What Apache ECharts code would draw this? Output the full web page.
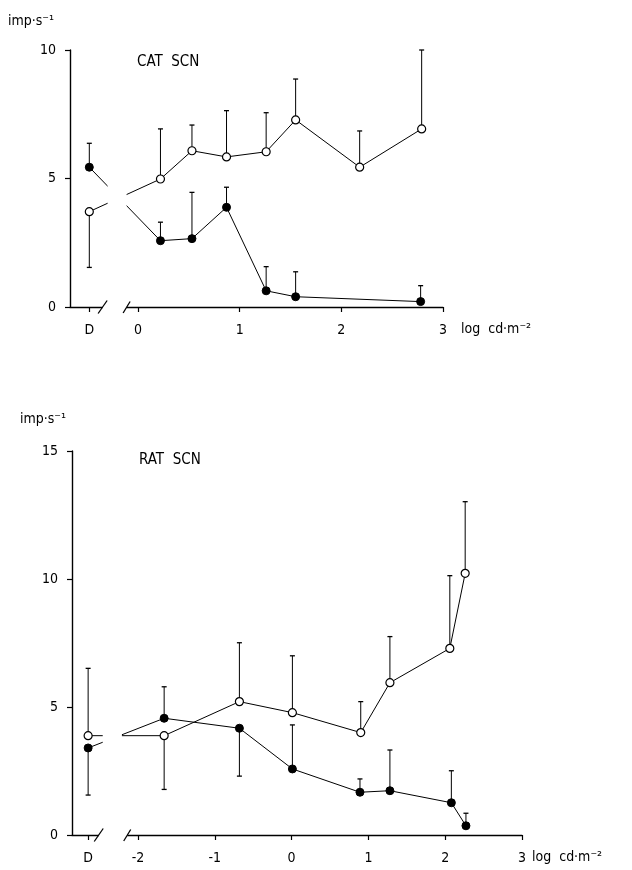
<!DOCTYPE html>
<html>
<head>
<meta charset="utf-8">
<script src="https://cdn.jsdelivr.net/npm/echarts@6/dist/echarts.min.js"></script>
<style>html,body{margin:0;padding:0;background:#fff;}#c{width:632px;height:870px;}</style>
</head>
<body>
<div id="c"></div>
<script>
// ---- data ----
const catD = -0.48;               // position of the "D" (dark) point on the top axis
const ratD = -2.65;               // position of the "D" point on the bottom axis
const catTicks = [0, 1, 2, 3];
const ratTicks = [-2, -1, 0, 1, 2, 3];
const catYTicks = [0, 5, 10];
const ratYTicks = [0, 5, 10, 15];

const catOpenX   = [catD, 0.22, 0.53, 0.87, 1.26, 1.55, 2.18, 2.79];
const catOpenY   = [3.71, 4.98, 6.08, 5.84, 6.04, 7.28, 5.44, 6.93];
const catOpenErr = [1.54, 6.93, 7.08, 7.64, 7.56, 8.87, 6.85, 10.0];

const catFillX   = [catD, 0.22, 0.53, 0.87, 1.26, 1.55, 2.78];
const catFillY   = [5.44, 2.58, 2.66, 3.88, 0.63, 0.40, 0.21];
const catFillErr = [6.37, 3.30, 4.46, 4.66, 1.57, 1.37, 0.83];

const ratOpenX   = [ratD, -1.66, -0.68, 0.01, 0.90, 1.28, 2.06, 2.26];
const ratOpenY   = [3.88, 3.88, 5.21, 4.78, 4.00, 5.95, 7.29, 10.22];
const ratOpenErr = [6.51, 1.78, 7.51, 7.00, 5.21, 7.75, 10.13, 13.02];

const ratFillX   = [ratD, -1.66, -0.68, 0.01, 0.89, 1.28, 2.08, 2.27];
const ratFillY   = [3.40, 4.56, 4.17, 2.58, 1.67, 1.73, 1.26, 0.36];
const ratFillErr = [1.56, 5.79, 2.30, 4.30, 2.19, 3.32, 2.51, 0.85];

// ---- layout / style config ----
const FONT = '"Liberation Sans Narrow", "DejaVu Sans Condensed", "Liberation Sans", sans-serif';
const catBreak = { lines: [-0.30, -0.113], axis: [-0.349, -0.113], yMax: 10 };
const ratBreak = { lines: [-2.46, -2.21], axis: [-2.512, -2.141], yMax: 15 };

const pairs = (xs, ys) => xs.map((x, i) => [x, ys[i]]);
const triples = (xs, ys, es) => xs.map((x, i) => [x, ys[i], es[i]]);

function errItem(params, api) {
  const x = api.value(0), y = api.value(1), e = api.value(2);
  const p0 = api.coord([x, y]);
  const p1 = api.coord([x, e]);
  return {
    type: 'group',
    children: [
      { type: 'line', shape: { x1: p0[0], y1: p0[1], x2: p1[0], y2: p1[1] }, style: { stroke: '#000', lineWidth: 1 } },
      { type: 'line', shape: { x1: p1[0] - 2.5, y1: p1[1], x2: p1[0] + 2.5, y2: p1[1] }, style: { stroke: '#000', lineWidth: 1.3 } }
    ]
  };
}

function breakRenderer(cfg) {
  return function (params, api) {
    const l0 = api.coord([cfg.lines[0], cfg.yMax]);
    const l1 = api.coord([cfg.lines[1], 0]);
    const a0 = api.coord([cfg.axis[0], 0]);
    const a1 = api.coord([cfg.axis[1], 0]);
    const ay = a0[1];
    return {
      type: 'group',
      children: [
        { type: 'rect', shape: { x: l0[0], y: l0[1], width: l1[0] - l0[0], height: ay - 4 - l0[1] }, style: { fill: '#fff' } },
        { type: 'rect', shape: { x: a0[0], y: ay - 4, width: a1[0] - a0[0], height: 8 }, style: { fill: '#fff' } },
        { type: 'line', shape: { x1: a0[0] - 4.5, y1: ay + 6.5, x2: a0[0] + 4.5, y2: ay - 6.5 }, style: { stroke: '#000', lineWidth: 1.3 } },
        { type: 'line', shape: { x1: a1[0] - 3.5, y1: ay + 6, x2: a1[0] + 3.5, y2: ay - 5.5 }, style: { stroke: '#000', lineWidth: 1.3 } }
      ]
    };
  };
}

function xAxisCfg(gridIndex, min, max, dPos, ticks) {
  const vals = [dPos].concat(ticks);
  return {
    type: 'value', gridIndex, min, max,
    axisLine: { show: true, onZero: false, lineStyle: { color: '#000', width: 1.4 } },
    axisTick: { show: true, customValues: vals, length: 5, lineStyle: { color: '#000', width: 1.2 } },
    axisLabel: {
      show: true, customValues: vals, margin: 16, color: '#000', fontSize: 14, fontFamily: FONT,
      formatter: v => (Math.abs(v - dPos) < 1e-6 ? 'D' : (v < 0 ? '-' + Math.abs(v) : String(v)))
    },
    splitLine: { show: false }
  };
}

function yAxisCfg(gridIndex, max, ticks) {
  return {
    type: 'value', gridIndex, min: 0, max, interval: 5,
    axisLine: { show: true, onZero: false, lineStyle: { color: '#000', width: 1.4 } },
    axisTick: { show: true, length: 5, lineStyle: { color: '#000', width: 1.2 } },
    axisLabel: { show: true, margin: 14, color: '#000', fontSize: 14, fontFamily: FONT,
      customValues: ticks },
    splitLine: { show: false }
  };
}

function lineSeries(xi, yi, data, open) {
  return {
    type: 'line', xAxisIndex: xi, yAxisIndex: yi, data, z: 3,
    symbol: 'circle', symbolSize: 8,
    lineStyle: { color: '#000', width: 1 },
    itemStyle: open ? { color: '#fff', borderColor: '#000', borderWidth: 1.2 } : { color: '#000', borderColor: '#000', borderWidth: 1 },
    emphasis: { disabled: true }, clip: false
  };
}
function errSeries(xi, yi, data) {
  return { type: 'custom', xAxisIndex: xi, yAxisIndex: yi, data, renderItem: errItem, z: 2, clip: false, silent: true };
}
function breakSeries(xi, yi, cfg) {
  return { type: 'custom', xAxisIndex: xi, yAxisIndex: yi, data: [[0, 0]], renderItem: breakRenderer(cfg), z: 5, clip: false, silent: true };
}

const chart = echarts.init(document.getElementById('c'), null, { renderer: 'canvas' });
chart.setOption({
  animation: false,
  backgroundColor: '#fff',
  textStyle: { fontFamily: FONT, color: '#000' },
  title: [
    { text: 'CAT  SCN', left: 132, top: 50, textStyle: { fontSize: 15, fontWeight: 'normal', color: '#000', fontFamily: FONT } },
    { text: 'RAT  SCN', left: 134, top: 448, textStyle: { fontSize: 15, fontWeight: 'normal', color: '#000', fontFamily: FONT } }
  ],
  graphic: [
    { type: 'text', left: 8, top: 14, style: { text: 'imp·s⁻¹', fontSize: 14, fontFamily: FONT, fill: '#000' } },
    { type: 'text', left: 20, top: 412, style: { text: 'imp·s⁻¹', fontSize: 14, fontFamily: FONT, fill: '#000' } },
    { type: 'text', left: 461, top: 322, style: { text: 'log  cd·m⁻²', fontSize: 14, fontFamily: FONT, fill: '#000' } },
    { type: 'text', left: 532, top: 850, style: { text: 'log  cd·m⁻²', fontSize: 14, fontFamily: FONT, fill: '#000' } }
  ],
  grid: [
    { left: 70, right: 189, top: 50, height: 257 },
    { left: 72, right: 110, top: 451, height: 384 }
  ],
  xAxis: [
    xAxisCfg(0, -0.67, 3, catD, catTicks),
    xAxisCfg(1, -2.86, 3, ratD, ratTicks)
  ],
  yAxis: [
    yAxisCfg(0, 10, catYTicks),
    yAxisCfg(1, 15, ratYTicks)
  ],
  series: [
    errSeries(0, 0, triples(catOpenX, catOpenY, catOpenErr)),
    errSeries(0, 0, triples(catFillX, catFillY, catFillErr)),
    lineSeries(0, 0, pairs(catOpenX, catOpenY), true),
    lineSeries(0, 0, pairs(catFillX, catFillY), false),
    breakSeries(0, 0, catBreak),
    errSeries(1, 1, triples(ratOpenX, ratOpenY, ratOpenErr)),
    errSeries(1, 1, triples(ratFillX, ratFillY, ratFillErr)),
    lineSeries(1, 1, pairs(ratOpenX, ratOpenY), true),
    lineSeries(1, 1, pairs(ratFillX, ratFillY), false),
    breakSeries(1, 1, ratBreak)
  ]
});
</script>
</body>
</html>
